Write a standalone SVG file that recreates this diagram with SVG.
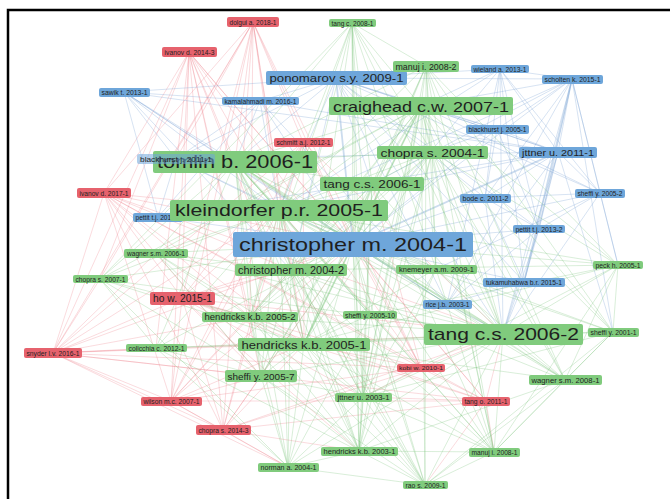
<svg xmlns="http://www.w3.org/2000/svg" width="670" height="499" viewBox="0 0 670 499">
<style>
.e{fill:none;stroke-width:.8}
.eg{stroke:#76c275;stroke-opacity:.35}
.eb{stroke:#7aa3d3;stroke-opacity:.38}
.er{stroke:#ec7a85;stroke-opacity:.34}
.tk{stroke-width:1.8}
.g rect{fill:#80cb7d}
.b rect{fill:#6ea6da}
.r rect{fill:#e6626d}
text{font-family:"Liberation Sans",Arial,sans-serif;fill:#1f1f1f;text-anchor:middle;dominant-baseline:central;font-size:6.5px}
</style>
<rect width="670" height="499" fill="#fff"/>
<path d="M8 499V10H670" stroke="#000" stroke-width="2.5" fill="none"/>
<g id="connectors">
<path class="e er" d="M253 22L104 193M253 22L182 298M253 22L53 353M253 22L171 401M253 22L223 430M253 22L353 244M253 22L279 210M253 22L235 162M253 22L291 270M253 22L250 317M253 22L304 344M253 22L303 142M253 22L100 279M253 22L176 159M253 22L421 368"/>
<path class="e er" d="M189 52L104 193M189 52L182 298M189 52L53 353M189 52L171 401M189 52L223 430M189 52L279 210M189 52L235 162M189 52L353 244M189 52L250 317M189 52L304 344M189 52L261 376M189 52L421 368M189 52L156 348M189 52L100 279M189 52L486 401"/>
<path class="e er" d="M104 193L182 298M104 193L53 353M104 193L171 401M104 193L223 430M104 193L279 210M104 193L353 244M104 193L304 344M104 193L250 317M104 193L486 401M104 193L291 270M104 193L261 376M104 193L421 368M104 193L503 334"/>
<path class="e er" d="M303 142L182 298M303 142L171 401M303 142L223 430M303 142L279 210M303 142L353 244M303 142L503 334M303 142L421 368M303 142L304 344M303 142L53 353"/>
<path class="e er" d="M182 298L53 353M182 298L171 401M182 298L223 430M182 298L421 368M182 298L486 401M182 298L353 244M182 298L279 210M182 298L304 344M182 298L503 334M182 298L261 376M182 298L250 317M182 298L291 270M182 298L363 397M182 298L359 451"/>
<path class="e er" d="M53 353L171 401M53 353L223 430M53 353L279 210M53 353L353 244M53 353L304 344M53 353L261 376M53 353L421 368M53 353L250 317M53 353L156 253M53 353L100 279M53 353L156 348M53 353L503 334M53 353L288 467M53 353L486 401"/>
<path class="e er" d="M171 401L223 430M171 401L304 344M171 401L250 317M171 401L261 376M171 401L288 467M171 401L421 368M171 401L291 270M171 401L353 244M171 401L279 210M171 401L486 401"/>
<path class="e er" d="M223 430L304 344M223 430L261 376M223 430L359 451M223 430L288 467M223 430L421 368M223 430L486 401M223 430L353 244M223 430L503 334M223 430L279 210"/>
<path class="e er" d="M421 368L486 401M421 368L503 334M421 368L353 244M421 368L304 344M421 368L363 397M421 368L372 184M421 368L279 210"/>
<path class="e er" d="M486 401L503 334M486 401L353 244M486 401L304 344M486 401L363 397M486 401L494 452M486 401L425 485"/>
<path class="e eb" d="M336 78L421 106M336 78L235 162M336 78L279 210M336 78L572 79M336 78L558 152M336 78L124 92M336 78L260 101M336 78L539 229M336 78L485 198M336 78L447 304M336 78L372 184M336 78L503 334M336 78L291 270M336 78L524 282M336 78L600 193M336 78L176 159M336 78L500 69"/>
<path class="e eb" d="M260 101L353 244M260 101L558 152M260 101L124 92M260 101L176 159M260 101L158 217M260 101L279 210M260 101L235 162M260 101L447 304"/>
<path class="e eb" d="M124 92L353 244M124 92L176 159M124 92L158 217M124 92L279 210M124 92L235 162M124 92L558 152M124 92L291 270M124 92L447 304"/>
<path class="e eb" d="M500 69L353 244M500 69L558 152M500 69L572 79M500 69L421 106M500 69L539 229M500 69L485 198M500 69L524 282M500 69L447 304M500 69L600 193M500 69L503 334M500 69L279 210"/>
<path class="e eb" d="M572 79L353 244M572 79L558 152M572 79L600 193M572 79L539 229M572 79L485 198M572 79L447 304M572 79L503 334M572 79L421 106M572 79L279 210M572 79L497 129M572 79L372 184M572 79L613 332M572 79L618 265"/>
<path class="e eb" d="M497 129L353 244M497 129L558 152M497 129L336 78M497 129L421 106M497 129L432 152M497 129L485 198M497 129L539 229"/>
<path class="e eb" d="M558 152L600 193M558 152L485 198M558 152L539 229M558 152L524 282M558 152L447 304M558 152L421 106M558 152L503 334M558 152L176 159M558 152L158 217M558 152L279 210M558 152L613 332"/>
<path class="e eb" d="M176 159L353 244M176 159L158 217M176 159L279 210"/>
<path class="e eb" d="M600 193L353 244M600 193L539 229M600 193L485 198M600 193L503 334M600 193L421 106M600 193L436 269M600 193L618 265"/>
<path class="e eb" d="M485 198L353 244M485 198L539 229M485 198L524 282M485 198L503 334"/>
<path class="e eb" d="M539 229L353 244M539 229L524 282M539 229L447 304M539 229L503 334"/>
<path class="e eb" d="M158 217L353 244M158 217L279 210M353 244L447 304M353 244L524 282M447 304L524 282M447 304L503 334M524 282L503 334"/>
<path class="e eb tk" d="M336 78L353 244M572 79L524 282M558 152L353 244"/>
<path class="e eg" d="M353 244L432 152M353 244L372 184M353 244L291 270M353 244L436 269M353 244L250 317M353 244L370 315M353 244L261 376M353 244L363 397M353 244L618 265M353 244L613 332M353 244L565 380M353 244L494 452M353 244L359 451M353 244L288 467M353 244L425 485M353 244L156 253M353 244L100 279M353 244L156 348M353 244L352 23M353 244L426 66"/>
<path class="e eg tk" d="M353 244L421 106M353 244L235 162M353 244L279 210M353 244L503 334M353 244L304 344M235 162L279 210"/>
<path class="e eg" d="M352 23L421 106M352 23L235 162M352 23L279 210M352 23L432 152M352 23L372 184M352 23L291 270M352 23L503 334M352 23L304 344M352 23L250 317M352 23L426 66M352 23L436 269M352 23L370 315M352 23L363 397M352 23L359 451M352 23L100 279"/>
<path class="e eg" d="M426 66L421 106M426 66L235 162M426 66L279 210M426 66L432 152M426 66L503 334M426 66L372 184M426 66L304 344M426 66L565 380M426 66L494 452M426 66L436 269M426 66L613 332M426 66L618 265M426 66L363 397M426 66L425 485"/>
<path class="e eg" d="M421 106L235 162M421 106L279 210M421 106L432 152M421 106L372 184M421 106L291 270M421 106L503 334M421 106L304 344M421 106L250 317M421 106L436 269M421 106L370 315M421 106L618 265M421 106L613 332M421 106L565 380M421 106L363 397M421 106L359 451M421 106L494 452M421 106L100 279M421 106L156 253M421 106L261 376M421 106L425 485"/>
<path class="e eg" d="M235 162L372 184M235 162L291 270M235 162L503 334M235 162L304 344M235 162L250 317M235 162L261 376M235 162L370 315M235 162L359 451M235 162L288 467M235 162L363 397M235 162L156 253M235 162L100 279M235 162L156 348M235 162L436 269M235 162L565 380M235 162L432 152M235 162L425 485M235 162L494 452"/>
<path class="e eg" d="M432 152L279 210M432 152L372 184M432 152L503 334M432 152L291 270M432 152L304 344M432 152L363 397M432 152L436 269M432 152L565 380M432 152L613 332M432 152L250 317M432 152L618 265M432 152L494 452M432 152L359 451"/>
<path class="e eg" d="M372 184L279 210M372 184L503 334M372 184L291 270M372 184L304 344M372 184L250 317M372 184L363 397M372 184L359 451M372 184L261 376M372 184L494 452"/>
<path class="e eg" d="M279 210L291 270M279 210L503 334M279 210L304 344M279 210L250 317M279 210L261 376M279 210L370 315M279 210L363 397M279 210L359 451M279 210L288 467M279 210L425 485M279 210L494 452M279 210L565 380M279 210L613 332M279 210L618 265M279 210L156 253M279 210L100 279M279 210L156 348M279 210L436 269"/>
<path class="e eg" d="M156 253L503 334M156 253L304 344M156 253L291 270M156 253L250 317M156 253L261 376M156 253L359 451"/>
<path class="e eg" d="M100 279L304 344M100 279L503 334M100 279L250 317M100 279L156 348M100 279L261 376M100 279L288 467"/>
<path class="e eg" d="M291 270L503 334M291 270L304 344M291 270L250 317M291 270L261 376M291 270L363 397M291 270L359 451M291 270L288 467M291 270L425 485M291 270L565 380M291 270L494 452"/>
<path class="e eg" d="M436 269L503 334M436 269L304 344M436 269L565 380M436 269L494 452M436 269L363 397M436 269L359 451"/>
<path class="e eg" d="M618 265L503 334M618 265L304 344M618 265L565 380M618 265L613 332M618 265L370 315M618 265L363 397M618 265L494 452M618 265L291 270"/>
<path class="e eg" d="M250 317L304 344M250 317L503 334M250 317L261 376M250 317L359 451M250 317L288 467M250 317L363 397M250 317L425 485"/>
<path class="e eg" d="M370 315L503 334M370 315L304 344M370 315L359 451M370 315L425 485M370 315L288 467"/>
<path class="e eg" d="M503 334L304 344M503 334L261 376M503 334L363 397M503 334L565 380M503 334L359 451M503 334L288 467M503 334L425 485M503 334L494 452M503 334L613 332M503 334L156 348"/>
<path class="e eg" d="M613 332L304 344M613 332L565 380M613 332L494 452M613 332L363 397M613 332L425 485"/>
<path class="e eg" d="M156 348L304 344M156 348L261 376M156 348L359 451M156 348L288 467"/>
<path class="e eg" d="M304 344L261 376M304 344L363 397M304 344L359 451M304 344L288 467M304 344L425 485M304 344L494 452M304 344L565 380"/>
<path class="e eg" d="M261 376L359 451M261 376L288 467M261 376L363 397M261 376L425 485M363 397L359 451M363 397L288 467M363 397L425 485M363 397L494 452"/>
<path class="e eg" d="M565 380L494 452M565 380L425 485M565 380L359 451M359 451L288 467M359 451L425 485M359 451L494 452M288 467L425 485M425 485L494 452"/>
</g>
<g id="n-dolgui" class="r"><rect x="227" y="17" width="52" height="10" rx="2"/><text x="253" y="22" textLength="47" lengthAdjust="spacingAndGlyphs">dolgui a. 2018-1</text></g>
<g id="n-ivanov2014" class="r"><rect x="162" y="47" width="55" height="10" rx="2"/><text x="189.5" y="52" textLength="50" lengthAdjust="spacingAndGlyphs">ivanov d. 2014-3</text></g>
<g id="n-ivanov2017" class="r"><rect x="77" y="188" width="54" height="10" rx="2"/><text x="104" y="193" textLength="49" lengthAdjust="spacingAndGlyphs">ivanov d. 2017-1</text></g>
<g id="n-schmitt" class="r"><rect x="274" y="138" width="59" height="9" rx="2"/><text x="303.5" y="142.5" textLength="54" lengthAdjust="spacingAndGlyphs">schmitt a.j. 2012-1</text></g>
<g id="n-how" class="r"><rect x="150" y="292" width="65" height="13" rx="2"/><text x="182.5" y="298.5" style="font-size:10px" textLength="59" lengthAdjust="spacingAndGlyphs">ho w. 2015-1</text></g>
<g id="n-snyder" class="r"><rect x="24" y="348" width="58" height="10" rx="2"/><text x="53" y="353" textLength="53" lengthAdjust="spacingAndGlyphs">snyder l.v. 2016-1</text></g>
<g id="n-wilson" class="r"><rect x="141" y="397" width="61" height="9" rx="2"/><text x="171.5" y="401.5" textLength="56" lengthAdjust="spacingAndGlyphs">wilson m.c. 2007-1</text></g>
<g id="n-chopra2014" class="r"><rect x="196" y="425" width="55" height="10" rx="2"/><text x="223.5" y="430" textLength="50" lengthAdjust="spacingAndGlyphs">chopra s. 2014-3</text></g>
<g id="n-kobi" class="r"><rect x="397" y="364" width="48" height="8" rx="2"/><text x="421" y="368" style="font-size:6px" textLength="44" lengthAdjust="spacingAndGlyphs">kobi w. 2010-1</text></g>
<g id="n-tango" class="r"><rect x="462" y="397" width="48" height="9" rx="2"/><text x="486" y="401.5" textLength="43" lengthAdjust="spacingAndGlyphs">tang o. 2011-1</text></g>
<g id="n-ponomarov" class="b"><rect x="266" y="71" width="141" height="14" rx="2"/><text x="336.5" y="78" style="font-size:11.5px" textLength="134" lengthAdjust="spacingAndGlyphs">ponomarov s.y. 2009-1</text></g>
<g id="n-kamalahmadi" class="b"><rect x="222" y="97" width="77" height="8" rx="2"/><text x="260.5" y="101" textLength="72" lengthAdjust="spacingAndGlyphs">kamalahmadi m. 2016-1</text></g>
<g id="n-sawik" class="b"><rect x="99" y="88" width="51" height="9" rx="2"/><text x="124.5" y="92.5" textLength="46" lengthAdjust="spacingAndGlyphs">sawik t. 2013-1</text></g>
<g id="n-wieland" class="b"><rect x="471" y="65" width="58" height="8" rx="2"/><text x="500" y="69" textLength="53" lengthAdjust="spacingAndGlyphs">wieland a. 2013-1</text></g>
<g id="n-scholten" class="b"><rect x="542" y="75" width="61" height="9" rx="2"/><text x="572.5" y="79.5" textLength="56" lengthAdjust="spacingAndGlyphs">scholten k. 2015-1</text></g>
<g id="n-blackhurst2005" class="b"><rect x="466" y="125" width="63" height="9" rx="2"/><text x="497.5" y="129.5" textLength="58" lengthAdjust="spacingAndGlyphs">blackhurst j. 2005-1</text></g>
<g id="n-jttner2011" class="b"><rect x="519" y="147" width="78" height="11" rx="2"/><text x="558" y="152.5" style="font-size:8.5px" textLength="72" lengthAdjust="spacingAndGlyphs">jttner u. 2011-1</text></g>
<g id="n-sheffi2005-2" class="b"><rect x="575" y="189" width="50" height="9" rx="2"/><text x="600" y="193.5" textLength="45" lengthAdjust="spacingAndGlyphs">sheffi y. 2005-2</text></g>
<g id="n-bode" class="b"><rect x="460" y="194" width="51" height="9" rx="2"/><text x="485.5" y="198.5" textLength="46" lengthAdjust="spacingAndGlyphs">bode c. 2011-2</text></g>
<g id="n-pettit2013" class="b"><rect x="513" y="225" width="52" height="8" rx="2"/><text x="539" y="229" textLength="47" lengthAdjust="spacingAndGlyphs">pettit t.j. 2013-2</text></g>
<g id="n-pettit2010" class="b"><rect x="133" y="213" width="50" height="9" rx="2"/><text x="158" y="217.5" textLength="45" lengthAdjust="spacingAndGlyphs">pettit t.j. 2010-1</text></g>
<g id="n-rice" class="b"><rect x="423" y="300" width="49" height="9" rx="2"/><text x="447.5" y="304.5" textLength="44" lengthAdjust="spacingAndGlyphs">rice j.b. 2003-1</text></g>
<g id="n-tukamuhabwa" class="b"><rect x="483" y="278" width="82" height="9" rx="2"/><text x="524" y="282.5" textLength="76" lengthAdjust="spacingAndGlyphs">tukamuhabwa b.r. 2015-1</text></g>
<g id="n-tangc2008" class="g"><rect x="329" y="19" width="47" height="8" rx="2"/><text x="352.5" y="23" textLength="42" lengthAdjust="spacingAndGlyphs">tang c. 2008-1</text></g>
<g id="n-manuj2008-2" class="g"><rect x="393" y="61" width="66" height="11" rx="2"/><text x="426" y="66.5" style="font-size:8.5px" textLength="61" lengthAdjust="spacingAndGlyphs">manuj i. 2008-2</text></g>
<g id="n-craighead" class="g"><rect x="329" y="97" width="184" height="18" rx="2"/><text x="421" y="106" style="font-size:15px" textLength="176" lengthAdjust="spacingAndGlyphs">craighead c.w. 2007-1</text></g>
<g id="n-tomlin" class="g"><rect x="153" y="151" width="164" height="22" rx="2"/><text x="235" y="162" style="font-size:18px" textLength="156" lengthAdjust="spacingAndGlyphs">tomlin b. 2006-1</text></g>
<g id="n-blackhurst2011" class="b"><rect x="137" y="154" width="78" height="10" rx="2" style="fill-opacity:.55"/><text x="176" y="159" textLength="72" lengthAdjust="spacingAndGlyphs">blackhurst j. 2011-1</text></g>
<g id="n-chopra2004" class="g"><rect x="377" y="146" width="111" height="13" rx="2"/><text x="432.5" y="152.5" style="font-size:10.5px" textLength="104" lengthAdjust="spacingAndGlyphs">chopra s. 2004-1</text></g>
<g id="n-tangcs2006-1" class="g"><rect x="320" y="177" width="104" height="14" rx="2"/><text x="372" y="184" style="font-size:10.5px" textLength="97" lengthAdjust="spacingAndGlyphs">tang c.s. 2006-1</text></g>
<g id="n-kleindorfer" class="g"><rect x="170" y="200" width="218" height="21" rx="2"/><text x="279" y="210.5" style="font-size:17px" textLength="208" lengthAdjust="spacingAndGlyphs">kleindorfer p.r. 2005-1</text></g>
<g id="n-christopher2004-1" class="b"><rect x="233" y="232" width="240" height="25" rx="2"/><text x="353" y="244.5" style="font-size:19px" textLength="228" lengthAdjust="spacingAndGlyphs">christopher m. 2004-1</text></g>
<g id="n-wagner2006" class="g"><rect x="124" y="249" width="64" height="9" rx="2"/><text x="156" y="253.5" textLength="58" lengthAdjust="spacingAndGlyphs">wagner s.m. 2006-1</text></g>
<g id="n-chopra2007" class="g"><rect x="73" y="275" width="55" height="8" rx="2"/><text x="100.5" y="279" textLength="50" lengthAdjust="spacingAndGlyphs">chopra s. 2007-1</text></g>
<g id="n-christopher2004-2" class="g"><rect x="235" y="264" width="112" height="12" rx="2"/><text x="291" y="270" style="font-size:10px" textLength="106" lengthAdjust="spacingAndGlyphs">christopher m. 2004-2</text></g>
<g id="n-knemeyer" class="g"><rect x="396" y="265" width="81" height="9" rx="2"/><text x="436.5" y="269.5" textLength="75" lengthAdjust="spacingAndGlyphs">knemeyer a.m. 2009-1</text></g>
<g id="n-peck" class="g"><rect x="593" y="261" width="50" height="8" rx="2"/><text x="618" y="265" textLength="45" lengthAdjust="spacingAndGlyphs">peck h. 2005-1</text></g>
<g id="n-hendricks2005-2" class="g"><rect x="202" y="312" width="96" height="10" rx="2"/><text x="250" y="317" style="font-size:9px" textLength="91" lengthAdjust="spacingAndGlyphs">hendricks k.b. 2005-2</text></g>
<g id="n-sheffi2005-10" class="g"><rect x="343" y="311" width="54" height="8" rx="2"/><text x="370" y="315" textLength="50" lengthAdjust="spacingAndGlyphs">sheffi y. 2005-10</text></g>
<g id="n-tangcs2006-2" class="g"><rect x="424" y="324" width="159" height="21" rx="2"/><text x="503.5" y="334.5" style="font-size:17px" textLength="151" lengthAdjust="spacingAndGlyphs">tang c.s. 2006-2</text></g>
<g id="n-sheffi2001" class="g"><rect x="588" y="328" width="51" height="9" rx="2"/><text x="613.5" y="332.5" textLength="46" lengthAdjust="spacingAndGlyphs">sheffi y. 2001-1</text></g>
<g id="n-colicchia" class="g"><rect x="126" y="344" width="61" height="8" rx="2"/><text x="156.5" y="348" textLength="56" lengthAdjust="spacingAndGlyphs">colicchia c. 2012-1</text></g>
<g id="n-hendricks2005-1" class="g"><rect x="238" y="338" width="132" height="13" rx="2"/><text x="304" y="344.5" style="font-size:11px" textLength="125" lengthAdjust="spacingAndGlyphs">hendricks k.b. 2005-1</text></g>
<g id="n-sheffi2005-7" class="g"><rect x="225" y="370" width="72" height="12" rx="2"/><text x="261" y="376" style="font-size:9.5px" textLength="67" lengthAdjust="spacingAndGlyphs">sheffi y. 2005-7</text></g>
<g id="n-jttner2003" class="g"><rect x="335" y="393" width="57" height="9" rx="2"/><text x="363.5" y="397.5" textLength="52" lengthAdjust="spacingAndGlyphs">jttner u. 2003-1</text></g>
<g id="n-wagner2008" class="g"><rect x="529" y="375" width="73" height="10" rx="2"/><text x="565.5" y="380" style="font-size:7.5px" textLength="68" lengthAdjust="spacingAndGlyphs">wagner s.m. 2008-1</text></g>
<g id="n-hendricks2003" class="g"><rect x="321" y="447" width="77" height="9" rx="2"/><text x="359.5" y="451.5" textLength="72" lengthAdjust="spacingAndGlyphs">hendricks k.b. 2003-1</text></g>
<g id="n-norman" class="g"><rect x="258" y="463" width="61" height="9" rx="2"/><text x="288.5" y="467.5" textLength="56" lengthAdjust="spacingAndGlyphs">norman a. 2004-1</text></g>
<g id="n-rao" class="g"><rect x="403" y="481" width="45" height="8" rx="2"/><text x="425.5" y="485" textLength="40" lengthAdjust="spacingAndGlyphs">rao s. 2009-1</text></g>
<g id="n-manuj2008-1" class="g"><rect x="469" y="448" width="51" height="9" rx="2"/><text x="494.5" y="452.5" textLength="46" lengthAdjust="spacingAndGlyphs">manuj i. 2008-1</text></g>
</svg>
